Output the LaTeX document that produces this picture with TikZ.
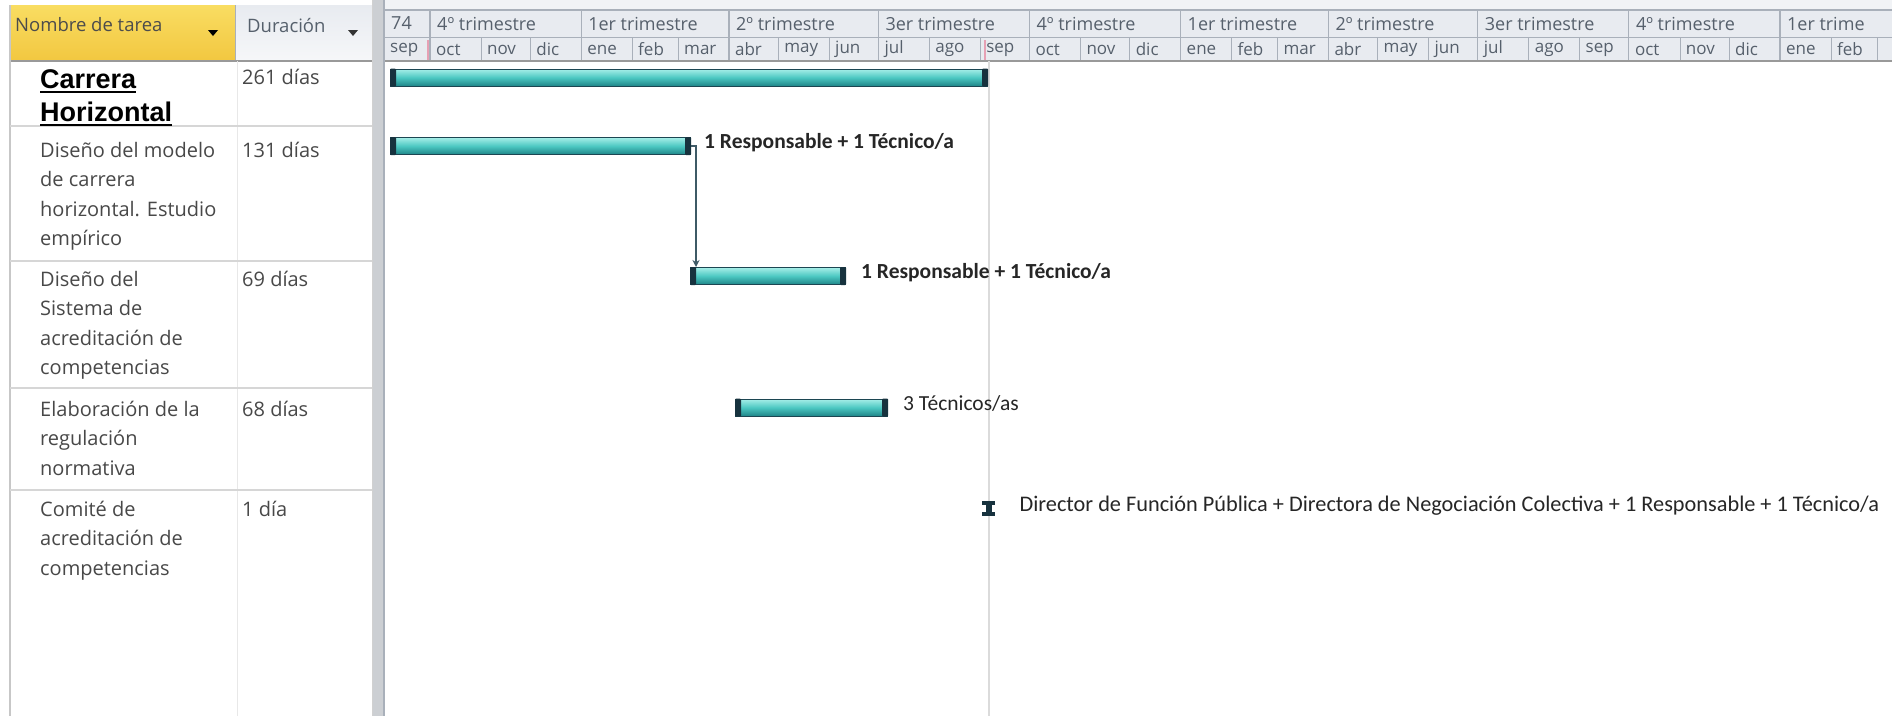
\documentclass[tikz,border=0pt]{standalone}
\usepackage{fontspec}
\setmainfont{Open Sans}
\newfontfamily\labfont{Carlito}
\newfontfamily\arialfont{Liberation Sans}
\usetikzlibrary{arrows.meta}
\definecolor{txtc}{HTML}{484848}
\definecolor{hdrc}{HTML}{56606C}
\definecolor{hdrbg}{HTML}{E8EBF0}
\definecolor{hdrline}{HTML}{A9B0BA}
\definecolor{yeltop}{HTML}{F9DD62}
\definecolor{yelbot}{HTML}{F2C740}
\definecolor{bartop}{HTML}{A6EEE8}
\definecolor{barmid}{HTML}{4CC8C2}
\definecolor{barbot}{HTML}{1F8588}
\definecolor{barline}{HTML}{1C4652}
\definecolor{capcol}{HTML}{17323E}
\definecolor{linkc}{HTML}{3E5A66}
\definecolor{rowline}{HTML}{D6D6D6}
\newcommand\thickul[1]{\setbox0\hbox{#1}\rlap{\rule[-5pt]{\wd0}{2pt}}\box0}
\begin{document}
\begin{tikzpicture}[x=1pt,y=-1pt,
  tasktxt/.style={inner sep=0pt, align=left, text=txtc, font=\fontsize{20}{29.5}\selectfont, anchor=base west},
  hdrtxt/.style={inner sep=0pt, text=hdrc, anchor=west},
  taskbar/.style={draw=barline, line width=1pt, top color=bartop, bottom color=barbot, middle color=barmid, minimum height=17pt, inner sep=0pt, anchor=west},
  barlabel/.style={inner sep=0pt, anchor=mid west, text=black!85},
  linkline/.style={draw=linkc, line width=1.3pt, -{Stealth[length=7pt,width=7pt]}},
]
\useasboundingbox (0,0) rectangle (1892,716);
\fill[white] (0,0) rectangle (1892,716);
\begin{scope}
\clip (0,0) rectangle (1892,716);
% ---------- table header ----------
\shade[top color=yeltop, bottom color=yelbot] (10,5) rectangle (235,61);
\shade[top color=hdrbg, bottom color=white!60!hdrbg] (235,5) rectangle (372,61);
\draw[hdrline] (235,5) -- (235,61);
\node[hdrtxt, text=black!70, font=\fontsize{18.5}{20}\selectfont] (hname) at (15,25) {Nombre de tarea};
\node[hdrtxt, font=\fontsize{18.5}{20}\selectfont] (hdur) at (247,25) {Duración};
\fill[black] (208,30) -- (218,30) -- (213,36) -- cycle;
\fill[black!80] (348,30) -- (358,30) -- (353,36) -- cycle;
% ---------- gantt header ----------
\fill[white!40!hdrbg] (384,0) rectangle (1892,10);
\fill[hdrbg] (384,10) rectangle (1892,61);
\draw[hdrline, line width=1.2pt] (384,10) -- (1892,10);
\draw[hdrline] (384,37) -- (1892,37);
\foreach \x in {430,581.1,728.9,878.3,1029.4,1180.5,1328.3,1477.7,1628.8,1779.9}
  \draw[hdrline, line width=1.2pt] (\x,10) -- (\x,61);
\foreach \x in {480.9,530.2,632.0,678.0,778.1,829.0,929.2,980.1,1080.3,1129.6,1231.4,1277.4,1377.5,1428.4,1528.6,1579.5,1679.7,1729.0,1830.8,1876.8}
  \draw[hdrline] (\x,37) -- (\x,61);
\foreach \x/\q [count=\i] in {384/74, 430/4º trimestre, 581.1/1er trimestre, 728.9/2º trimestre, 878.3/3er trimestre, 1029.4/4º trimestre, 1180.5/1er trimestre, 1328.3/2º trimestre, 1477.7/3er trimestre, 1628.8/4º trimestre, 1779.9/1er trime}
  \node[hdrtxt, font=\fontsize{18}{20}\selectfont] (q\i) at (\x+7,23.5) {\q};
\foreach \x/\m [count=\i] in {384/sep, 430/oct, 480.9/nov, 530.2/dic, 581.1/ene, 632.0/feb, 678.0/mar, 728.9/abr, 778.1/may, 829.0/jun, 878.3/jul, 929.2/ago, 980.1/sep, 1029.4/oct, 1080.3/nov, 1129.6/dic, 1180.5/ene, 1231.4/feb, 1277.4/mar, 1328.3/abr, 1377.5/may, 1428.4/jun, 1477.7/jul, 1528.6/ago, 1579.5/sep, 1628.8/oct, 1679.7/nov, 1729.0/dic, 1779.9/ene, 1830.8/feb}
  \node[hdrtxt, font=\fontsize{17}{19}\selectfont] (m\i) at (\x+6,49.5) {\m};
\draw[color={rgb,255:red,230;green,160;blue,180}, line width=1.5pt] (428,40) -- (428,60);
\draw[color={rgb,255:red,230;green,160;blue,180}, line width=1.5pt] (985,40) -- (985,60);
\draw[black!40, line width=1.2pt] (10,61) -- (1892,61);
% ---------- table body ----------
\draw[black!22, line width=1.2pt] (10,5) -- (10,716);
\draw[black!9] (237,61) -- (237,716);
\foreach \y in {126,261,388,490}
  \draw[rowline, line width=1.5pt] (10,\y) -- (372,\y);
% splitter
\fill[black!12!hdrbg] (372,0) rectangle (384,716);
\draw[black!18] (372,0) -- (372,716);
\draw[hdrline, line width=1.2pt] (384,0) -- (384,716);
% task names (base anchor = baseline of the last line)
\node[inner sep=0pt, align=left, anchor=base west, text=black, font=\arialfont\bfseries\fontsize{27}{33}\selectfont] (t1) at (40,121) {\thickul{Carrera}\\\thickul{Horizontal}};
\node[tasktxt] (t2) at (40,245.5) {Diseño del modelo\\de carrera\\horizontal. Estudio\\empírico};
\node[tasktxt] (t3) at (40,374.5) {Diseño del\\Sistema de\\acreditación de\\competencias};
\node[tasktxt] (t4) at (40,475) {Elaboración de la\\regulación\\normativa};
\node[tasktxt] (t5) at (40,575) {Comité de\\acreditación de\\competencias};
% durations
\node[tasktxt] (d1) at (242,84) {261 días};
\node[tasktxt] (d2) at (242,157) {131 días};
\node[tasktxt] (d3) at (242,286) {69 días};
\node[tasktxt] (d4) at (242,416) {68 días};
\node[tasktxt] (d5) at (242,516) {1 día};
% ---------- gantt body ----------
\draw[black!14, line width=2pt] (989,61) -- (989,716);
\node[taskbar, minimum width=597pt] (b1) at (390,77.5) {};
\node[taskbar, minimum width=300pt] (b2) at (390,146) {};
\node[taskbar, minimum width=155pt] (b3) at (690,276) {};
\node[taskbar, minimum width=152pt] (b4) at (735,407.5) {};
\foreach \b in {b1,b2,b3,b4} {
  \fill[capcol, rounded corners=1pt] (\b.north west) rectangle ([xshift=6pt]\b.south west);
  \fill[capcol, rounded corners=1pt] ([xshift=-6pt]\b.north east) rectangle (\b.south east);
}
\node[inner sep=0pt, minimum width=13pt, minimum height=15pt, anchor=west] (b5) at (982,508.5) {};
\fill[capcol] (b5.north west) rectangle ([yshift=-4pt]b5.north east);
\fill[capcol] ([xshift=3.5pt]b5.north west) rectangle ([xshift=-3.5pt]b5.south east);
\fill[capcol] ([yshift=4pt]b5.south west) rectangle (b5.south east);
% link
\draw[linkline] (b2.east) -| ([xshift=6pt]b3.north west);
% labels
\node[barlabel, font=\labfont\bfseries\fontsize{21.5}{24}\selectfont] (l2) at ([xshift=13pt]b2.east) {1 Responsable + 1 Técnico/a};
\node[barlabel, font=\labfont\bfseries\fontsize{21.5}{24}\selectfont] (l3) at ([xshift=15pt]b3.east) {1 Responsable + 1 Técnico/a};
\node[barlabel, font=\labfont\fontsize{21.5}{24}\selectfont] (l4) at ([xshift=15pt]b4.east) {3 Técnicos/as};
\node[barlabel, font=\labfont\fontsize{22.3}{25}\selectfont] (l5) at ([xshift=24pt]b5.east) {Director de Función Pública + Directora de Negociación Colectiva + 1 Responsable + 1 Técnico/a};
\end{scope}
\end{tikzpicture}
\end{document}
